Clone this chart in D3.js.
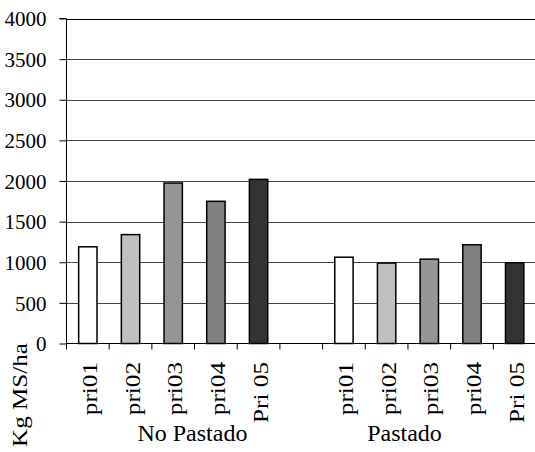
<!DOCTYPE html>
<html><head><meta charset="utf-8">
<script src="https://cdn.jsdelivr.net/npm/d3@7"></script>
<style>body{margin:0;background:#fff}svg{display:block}svg text{font-family:'Liberation Serif','Times New Roman',Times,serif;fill:#000}</style>
</head><body><svg id="c" width="535" height="452"></svg>
<script>
const categories = ["pri01","pri02","pri03","pri04","Pri 05","","pri01","pri02","pri03","pri04","Pri 05"];
const values = [1190,1340,1975,1750,2020,null,1062,990,1038,1215,993];
const colors = ["#ffffff","#c0c0c0","#969696","#808080","#333333",null,"#ffffff","#c0c0c0","#969696","#808080","#333333"];
const groups = [{name:"No Pastado", pos:2.95},{name:"Pastado", pos:7.92}];
const yTicks = [0,500,1000,1500,2000,2500,3000,3500,4000];
const yTitle = "Kg MS/ha";

const FONT = "'Liberation Serif','Times New Roman',Times,serif";
const svg = d3.select("#c");
const L=66.5, R=536, T=18.5, B=343.5;
const keys = categories.map((c,i)=>i);
const x = d3.scaleBand().domain(keys).range([L,R]).padding(0);
const y = d3.scaleLinear().domain([0,4000]).range([B,T]);

svg.append("g").selectAll("line").data(yTicks.filter(d=>d>0)).join("line")
  .attr("x1",L).attr("x2",535).attr("y1",d=>Math.round(y(d))+0.5).attr("y2",d=>Math.round(y(d))+0.5)
  .attr("stroke",d=>d===4000?"#000":"#444").attr("stroke-width",1);

const ya = svg.append("g").attr("transform",`translate(${L},0)`)
  .call(d3.axisLeft(y).tickValues(yTicks).tickSize(7).tickPadding(13).tickFormat(d3.format("d")));
ya.attr("font-family",FONT).attr("font-size",21);
ya.select(".domain").attr("stroke","#000").attr("d",`M-7,${T}H0V${B}`);
ya.selectAll(".tick line").attr("stroke","#000");
ya.selectAll(".tick text").style("font-size","21px").attr("fill","#000").attr("dy","0.34em");

const bw = x.bandwidth()*0.43;
svg.append("g").selectAll("rect").data(values.map((v,i)=>({v,i})).filter(d=>d.v!=null)).join("rect")
  .attr("x",d=>x(d.i)+x.bandwidth()/2-bw/2).attr("width",bw)
  .attr("y",d=>y(d.v)).attr("height",d=>B-y(d.v))
  .attr("fill",d=>colors[d.i]).attr("stroke","#000").attr("stroke-width",1.5);

svg.append("line").attr("x1",L).attr("x2",535).attr("y1",B).attr("y2",B).attr("stroke","#000").attr("stroke-width",1.2);
svg.append("g").selectAll("line").data(keys).join("line")
  .attr("x1",d=>x(d)).attr("x2",d=>x(d)).attr("y1",B).attr("y2",B+6).attr("stroke","#000");

svg.append("g").selectAll("text").data(categories.map((c,i)=>({c,i})).filter(d=>d.c)).join("text")
  .attr("transform",d=>`translate(${x(d.i)+x.bandwidth()/2+9},362) rotate(-90) scale(1.2,1)`)
  .attr("text-anchor","end").style("font-size","21px").text(d=>d.c);

svg.append("g").selectAll("text").data(groups).join("text")
  .attr("x",d=>x(0)+d.pos*x.bandwidth()).attr("y",441)
  .attr("text-anchor","middle").style("font-size","24px").text(d=>d.name);

svg.append("text").attr("transform","translate(27,395) rotate(-90) scale(1.14,1)").attr("text-anchor","middle")
  .style("font-size","22px").text(yTitle);
</script></body></html>
